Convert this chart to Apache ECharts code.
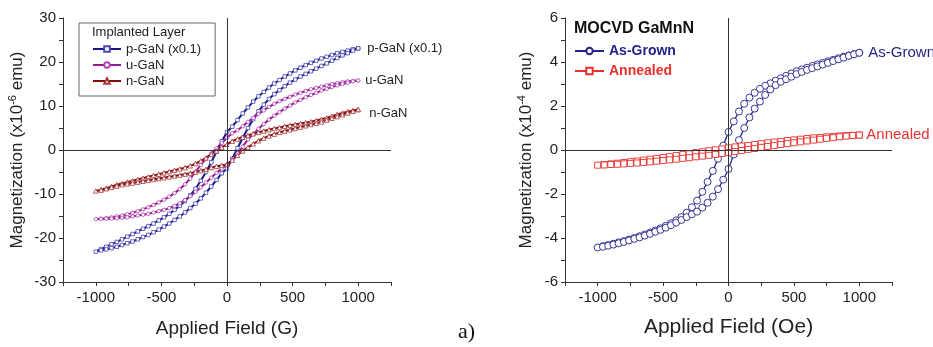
<!DOCTYPE html>
<html>
<head>
<meta charset="utf-8">
<script src="https://cdn.jsdelivr.net/npm/echarts@6/dist/echarts.min.js"></script>
<style>
  html, body { margin: 0; background: #fff; }
  #chart { width: 933px; height: 347px; }
</style>
</head>
<body>
<div id="chart"></div>
<script>
// field sweeps: 40 G steps (left panel + As-Grown), 50 Oe steps (Annealed)
const fieldDown40 = [1000, 960, 920, 880, 840, 800, 760, 720, 680, 640, 600, 560, 520, 480, 440, 400, 360, 320, 280, 240, 200, 160, 120, 80, 40, 0, -40, -80, -120, -160, -200, -240, -280, -320, -360, -400, -440, -480, -520, -560, -600, -640, -680, -720, -760, -800, -840, -880, -920, -960, -1000];
const fieldUp40 = [-960, -920, -880, -840, -800, -760, -720, -680, -640, -600, -560, -520, -480, -440, -400, -360, -320, -280, -240, -200, -160, -120, -80, -40, 0, 40, 80, 120, 160, 200, 240, 280, 320, 360, 400, 440, 480, 520, 560, 600, 640, 680, 720, 760, 800, 840, 880, 920, 960, 1000];
const fieldDown50 = [1000, 950, 900, 850, 800, 750, 700, 650, 600, 550, 500, 450, 400, 350, 300, 250, 200, 150, 100, 50, 0, -50, -100, -150, -200, -250, -300, -350, -400, -450, -500, -550, -600, -650, -700, -750, -800, -850, -900, -950, -1000];
const fieldUp50 = [-950, -900, -850, -800, -750, -700, -650, -600, -550, -500, -450, -400, -350, -300, -250, -200, -150, -100, -50, 0, 50, 100, 150, 200, 250, 300, 350, 400, 450, 500, 550, 600, 650, 700, 750, 800, 850, 900, 950, 1000];

// left panel, x10^-6 emu
const pGaNDown = [23.1, 22.9, 22.6, 22.3, 22.0, 21.6, 21.2, 20.8, 20.3, 19.8, 19.3, 18.7, 18.1, 17.4, 16.7, 15.9, 15.1, 14.2, 13.2, 12.2, 11.0, 9.7, 8.3, 6.8, 5.3, 4.1, 2.0, -0.4, -2.8, -5.0, -7.0, -8.8, -10.3, -11.6, -12.7, -13.6, -14.5, -15.3, -16.0, -16.7, -17.3, -17.9, -18.5, -19.1, -19.7, -20.3, -20.9, -21.4, -22.0, -22.5, -23.1];
const pGaNUp = [-22.8, -22.6, -22.3, -22.0, -21.6, -21.2, -20.8, -20.3, -19.8, -19.3, -18.7, -18.1, -17.4, -16.7, -15.9, -15.1, -14.2, -13.2, -12.2, -11.0, -9.7, -8.3, -6.8, -5.3, -4.2, -2.0, 0.4, 2.8, 5.0, 7.0, 8.8, 10.3, 11.6, 12.7, 13.6, 14.5, 15.3, 16.0, 16.7, 17.3, 17.9, 18.5, 19.1, 19.7, 20.3, 20.9, 21.5, 22.0, 22.6, 23.1];
const uGaNDown = [15.8, 15.7, 15.6, 15.4, 15.2, 15.0, 14.7, 14.4, 14.1, 13.8, 13.4, 13.0, 12.6, 12.1, 11.6, 11.1, 10.5, 9.8, 9.0, 8.2, 7.3, 6.4, 5.4, 4.5, 3.8, 2.8, 1.6, 0.4, -0.8, -2.0, -3.4, -5.0, -6.5, -7.8, -8.9, -9.8, -10.6, -11.3, -11.9, -12.5, -13.0, -13.5, -13.9, -14.3, -14.6, -14.9, -15.1, -15.3, -15.5, -15.6, -15.7];
const uGaNUp = [-15.7, -15.6, -15.6, -15.5, -15.4, -15.3, -15.1, -14.9, -14.7, -14.5, -14.2, -13.9, -13.6, -13.2, -12.7, -12.1, -11.4, -10.5, -9.5, -8.5, -7.4, -6.3, -5.2, -4.2, -3.3, -2.2, -0.8, 0.8, 2.4, 3.6, 4.8, 5.9, 6.9, 7.8, 8.6, 9.4, 10.1, 10.8, 11.4, 12.0, 12.5, 13.0, 13.5, 13.9, 14.3, 14.7, 15.0, 15.3, 15.6, 15.8];
const nGaNDown = [9.2, 9.0, 8.7, 8.4, 8.1, 7.7, 7.3, 7.0, 6.7, 6.4, 6.2, 6.0, 5.8, 5.6, 5.4, 5.1, 4.9, 4.6, 4.3, 4.0, 3.7, 3.3, 2.9, 2.5, 2.0, 1.3, 0.6, -0.2, -1.0, -1.8, -2.5, -3.1, -3.6, -4.0, -4.3, -4.6, -4.9, -5.2, -5.5, -5.8, -6.1, -6.4, -6.7, -7.0, -7.3, -7.6, -7.9, -8.3, -8.7, -9.0, -9.3];
const nGaNUp = [-9.1, -8.8, -8.5, -8.2, -7.9, -7.7, -7.5, -7.3, -7.1, -6.9, -6.7, -6.5, -6.3, -6.1, -5.9, -5.7, -5.5, -5.3, -5.0, -4.7, -4.4, -4.0, -3.7, -3.5, -3.3, -2.3, -1.2, -0.2, 0.6, 1.4, 2.1, 2.7, 3.2, 3.6, 4.0, 4.3, 4.6, 4.9, 5.2, 5.5, 5.8, 6.1, 6.4, 6.8, 7.2, 7.6, 8.0, 8.4, 8.8, 9.2];

// right panel, x10^-4 emu
const asGrownDown = [4.42, 4.36, 4.30, 4.24, 4.17, 4.10, 4.03, 3.96, 3.89, 3.82, 3.74, 3.66, 3.58, 3.48, 3.37, 3.26, 3.15, 3.03, 2.92, 2.78, 2.60, 2.38, 2.10, 1.75, 1.30, 0.82, 0.20, -0.40, -0.95, -1.45, -1.90, -2.30, -2.60, -2.85, -3.05, -3.20, -3.33, -3.45, -3.56, -3.66, -3.75, -3.84, -3.92, -4.00, -4.07, -4.14, -4.20, -4.26, -4.32, -4.37, -4.43];
const asGrownUp = [-4.40, -4.35, -4.30, -4.24, -4.18, -4.11, -4.04, -3.97, -3.89, -3.81, -3.72, -3.63, -3.53, -3.42, -3.30, -3.18, -3.05, -2.92, -2.80, -2.62, -2.40, -2.12, -1.78, -1.35, -0.86, -0.20, 0.45, 1.00, 1.48, 1.88, 2.20, 2.50, 2.75, 2.95, 3.10, 3.22, 3.33, 3.45, 3.55, 3.64, 3.72, 3.80, 3.88, 3.96, 4.04, 4.12, 4.20, 4.28, 4.35, 4.42];
const annealedDown = [0.68, 0.67, 0.66, 0.64, 0.62, 0.60, 0.57, 0.55, 0.52, 0.49, 0.46, 0.43, 0.39, 0.36, 0.33, 0.29, 0.25, 0.21, 0.18, 0.14, 0.10, 0.05, 0.01, -0.03, -0.08, -0.12, -0.17, -0.21, -0.25, -0.30, -0.34, -0.38, -0.42, -0.46, -0.50, -0.53, -0.57, -0.60, -0.63, -0.66, -0.69];
const annealedUp = [-0.68, -0.66, -0.65, -0.63, -0.61, -0.59, -0.57, -0.54, -0.51, -0.48, -0.45, -0.42, -0.38, -0.35, -0.31, -0.28, -0.24, -0.20, -0.16, -0.12, -0.07, -0.02, 0.03, 0.07, 0.12, 0.16, 0.20, 0.25, 0.29, 0.33, 0.37, 0.41, 0.45, 0.49, 0.53, 0.56, 0.60, 0.63, 0.66, 0.68];

const colors = {
  navy: "#16168a",
  purple: "#961896",
  maroon: "#860a0a",
  blue: "#23238c",
  red: "#e8302c",
  ink: "#222222",
  axis: "#333333"
};

const font = "'Liberation Sans', Arial, sans-serif";

// sweep down from +H then back up, so the loop ends at +1000
const loop = (hDown, mDown, hUp, mUp) =>
  hDown.map((h, i) => [h, mDown[i]]).concat(hUp.map((h, i) => [h, mUp[i]]));

// open markers: white fill, thin coloured outline
const openMarker = (edge, width) => ({ color: "#ffffff", borderColor: edge, borderWidth: width });

const zeroLines = {
  silent: true,
  symbol: ["none", "none"],
  label: { show: false },
  lineStyle: { color: colors.axis, width: 1, type: "solid" },
  emphasis: { disabled: true },
  animation: false,
  data: [{ xAxis: 0 }, { yAxis: 0 }]
};

const xAxisFor = (gridIndex, name, nameSize, nameGap) => ({
  gridIndex,
  type: "value",
  min: -1250,
  max: 1250,
  interval: 250,
  axisLine: { show: true, onZero: false, lineStyle: { color: colors.axis } },
  axisTick: { show: true, interval: 0, length: 4, lineStyle: { color: colors.axis } },
  axisLabel: { interval: 0, fontSize: 15, color: colors.ink, margin: 8, formatter: v => (v % 500 === 0 ? String(v) : "") },
  splitLine: { show: false },
  name,
  nameLocation: "middle",
  nameGap,
  nameTextStyle: { fontSize: nameSize, color: colors.ink }
});

const yAxisFor = (gridIndex, max, step, labelStep, exp, nameGap) => ({
  gridIndex,
  type: "value",
  min: -max,
  max,
  interval: step,
  axisLine: { show: true, onZero: false, lineStyle: { color: colors.axis } },
  axisTick: { show: true, interval: 0, length: 4, lineStyle: { color: colors.axis } },
  axisLabel: { interval: 0, fontSize: 15, color: colors.ink, margin: 7, formatter: v => (v % labelStep === 0 ? String(v) : "") },
  splitLine: { show: false },
  name: "Magnetization (x10{sup|" + exp + "} emu)",
  nameLocation: "middle",
  nameGap,
  nameTextStyle: {
    fontSize: 17,
    lineHeight: 20,
    color: colors.ink,
    rich: { sup: { fontSize: 11, lineHeight: 11, verticalAlign: "top", color: colors.ink } }
  }
});

const chart = echarts.init(document.getElementById("chart"), null, { renderer: "canvas" });

chart.setOption({
  animation: false,
  textStyle: { fontFamily: font },
  grid: [
    { left: 63, top: 18, width: 328, height: 264 },
    { left: 565, top: 18, width: 327, height: 264 }
  ],
  xAxis: [xAxisFor(0, "Applied Field (G)", 19, 37), xAxisFor(1, "Applied Field (Oe)", 21, 35)],
  yAxis: [yAxisFor(0, 30, 5, 10, "-6", 36), yAxisFor(1, 6, 1, 2, "-4", 29)],
  title: [
    { text: "Implanted Layer", left: 92, top: 26, padding: 0, textStyle: { fontSize: 13, fontWeight: "normal", color: colors.ink } },
    { text: "MOCVD GaMnN", left: 574, top: 21, padding: 0, textStyle: { fontSize: 16, fontWeight: "bold", color: "#111" } }
  ],
  legend: [
    {
      orient: "vertical",
      left: 79,
      top: 23,
      padding: [18, 14, 7, 13],
      itemGap: 0,
      itemWidth: 28,
      itemHeight: 7,
      borderColor: "#666",
      borderWidth: 1,
      textStyle: { fontSize: 13, lineHeight: 16, color: colors.ink },
      data: ["p-GaN (x0.1)", "u-GaN", "n-GaN"]
    },
    {
      orient: "vertical",
      left: 574,
      top: 43,
      padding: 0,
      itemGap: 4,
      itemWidth: 29,
      itemHeight: 8,
      textStyle: { fontSize: 14, lineHeight: 16, fontWeight: "bold" },
      data: [
        { name: "As-Grown", textStyle: { color: colors.blue } },
        { name: "Annealed", textStyle: { color: colors.red } }
      ]
    }
  ],
  graphic: [
    { type: "text", left: 458, top: 321, style: { text: "a)", font: "22px 'Liberation Serif', serif", fill: "#111" } }
  ],
  series: [
    {
      name: "p-GaN (x0.1)",
      type: "line",
      xAxisIndex: 0,
      yAxisIndex: 0,
      data: loop(fieldDown40, pGaNDown, fieldUp40, pGaNUp),
      symbol: "rect",
      symbolSize: 3.5,
      lineStyle: { color: colors.navy, width: 2 },
      itemStyle: openMarker("#4848b0", 0.8),
      endLabel: { show: true, formatter: "{a}", fontSize: 13, color: colors.ink, distance: 9 },
      markLine: zeroLines
    },
    {
      name: "u-GaN",
      type: "line",
      xAxisIndex: 0,
      yAxisIndex: 0,
      data: loop(fieldDown40, uGaNDown, fieldUp40, uGaNUp),
      symbol: "circle",
      symbolSize: 3.5,
      lineStyle: { color: colors.purple, width: 2 },
      itemStyle: openMarker("#b048b0", 0.8),
      endLabel: { show: true, formatter: "{a}", fontSize: 13, color: colors.ink, distance: 7 }
    },
    {
      name: "n-GaN",
      type: "line",
      xAxisIndex: 0,
      yAxisIndex: 0,
      data: loop(fieldDown40, nGaNDown, fieldUp40, nGaNUp),
      symbol: "triangle",
      symbolSize: 4.5,
      lineStyle: { color: colors.maroon, width: 2 },
      itemStyle: openMarker("#a03838", 0.8),
      endLabel: { show: true, formatter: "{a}", fontSize: 13, color: colors.ink, distance: 11, offset: [0, 4] }
    },
    {
      name: "As-Grown",
      type: "line",
      xAxisIndex: 1,
      yAxisIndex: 1,
      data: loop(fieldDown40, asGrownDown, fieldUp40, asGrownUp),
      symbol: "circle",
      symbolSize: 7,
      lineStyle: { color: colors.blue, width: 1.3 },
      itemStyle: openMarker(colors.blue, 0.9),
      endLabel: { show: true, formatter: "{a}", fontSize: 15, color: colors.blue, distance: 9 },
      markLine: zeroLines
    },
    {
      name: "Annealed",
      type: "line",
      xAxisIndex: 1,
      yAxisIndex: 1,
      data: loop(fieldDown50, annealedDown, fieldUp50, annealedUp),
      symbol: "rect",
      symbolSize: 6,
      lineStyle: { color: colors.red, width: 1 },
      itemStyle: openMarker(colors.red, 0.9),
      endLabel: { show: true, formatter: "{a}", fontSize: 15, color: colors.red, distance: 7 }
    }
  ]
});
</script>
</body>
</html>
